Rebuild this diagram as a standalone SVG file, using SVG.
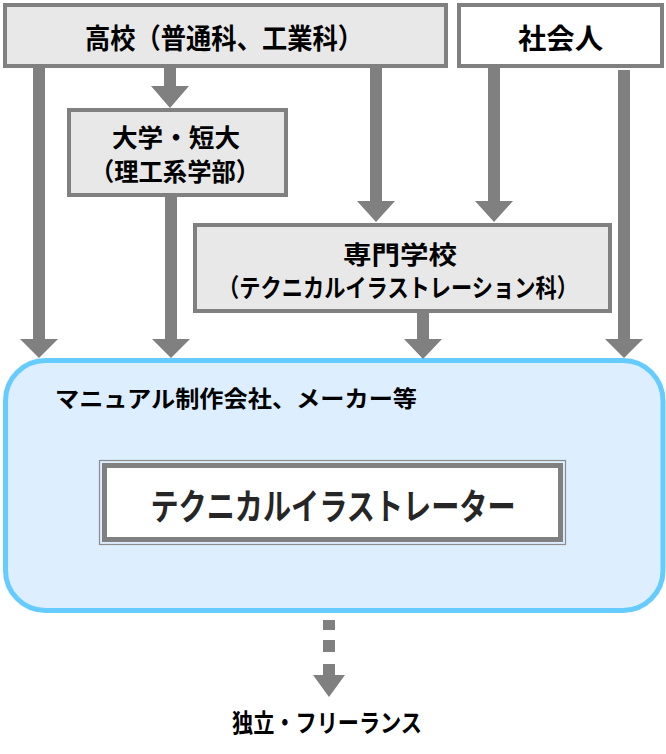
<svg xmlns="http://www.w3.org/2000/svg" width="666" height="754" viewBox="0 0 666 754">
<style>
.box{fill:#e8e8e8;stroke:#808080;stroke-width:4}
.wbox{fill:#ffffff;stroke:#808080;stroke-width:4}
.arr{fill:#808080}
.t{font-family:"Noto Sans CJK JP","Noto Sans",sans-serif;font-weight:bold;fill:#000;text-anchor:middle}
</style>
<rect width="666" height="754" fill="#ffffff"/>
<g id="company">
<rect x="5.5" y="360.5" width="657.5" height="250" rx="40" ry="40" fill="#dceeff" stroke="#66ccff" stroke-width="5"/>
<text class="t" x="55" y="407" font-size="23" style="text-anchor:start" textLength="362" lengthAdjust="spacingAndGlyphs">マニュアル制作会社、メーカー等</text>
</g>
<g id="illustrator">
<rect x="99.5" y="460.5" width="466" height="84" fill="none" stroke="#8c8c8c" stroke-width="1.2"/>
<rect x="104.5" y="465.5" width="456" height="74" fill="#ffffff" stroke="#808080" stroke-width="5"/>
<text class="t" x="333" y="520" font-size="36" style="font-weight:bold;fill:#262626" textLength="365" lengthAdjust="spacingAndGlyphs">テクニカルイラストレーター</text>
</g>
<g id="highschool">
<rect class="box" x="5" y="5" width="441" height="61"/>
<text class="t" x="224" y="49" font-size="28" textLength="278" lengthAdjust="spacingAndGlyphs">高校（普通科、工業科）</text>
</g>
<g id="shakaijin">
<rect class="wbox" x="459" y="5" width="203" height="61"/>
<text class="t" x="560.5" y="49" font-size="28" textLength="85" lengthAdjust="spacingAndGlyphs">社会人</text>
</g>
<g id="university">
<rect class="box" x="69" y="110" width="217" height="85"/>
<text class="t" x="176" y="147" font-size="25" textLength="128" lengthAdjust="spacingAndGlyphs">大学・短大</text>
<text class="t" x="175" y="181" font-size="25" textLength="170" lengthAdjust="spacingAndGlyphs">（理工系学部）</text>
</g>
<g id="senmon">
<rect class="box" x="195" y="225" width="415" height="86"/>
<text class="t" x="400" y="264" font-size="25" textLength="114" lengthAdjust="spacingAndGlyphs">専門学校</text>
<text class="t" x="398" y="297" font-size="25" textLength="360" lengthAdjust="spacingAndGlyphs">（テクニカルイラストレーション科）</text>
</g>
<g id="freelance">
<text class="t" x="327" y="732" font-size="25" textLength="190" lengthAdjust="spacingAndGlyphs">独立・フリーランス</text>
</g>
<g id="connectors">
<polygon class="arr" points="33,68 45,68 45,339 58,339 39,358 20,339 33,339"/>
<polygon class="arr" points="164,68 176,68 176,86 189,86 170,108 151,86 164,86"/>
<polygon class="arr" points="165,197 177,197 177,339 190,339 171,358 152,339 165,339"/>
<polygon class="arr" points="370,68 382,68 382,201 395,201 376,222 357,201 370,201"/>
<polygon class="arr" points="488,68 500,68 500,201 513,201 494,222 475,201 488,201"/>
<polygon class="arr" points="618,70 630,70 630,339 643,339 624,358 605,339 618,339"/>
<polygon class="arr" points="417,313 429,313 429,339 442,339 423,359 404,339 417,339"/>
<rect class="arr" x="323" y="620" width="12" height="10"/>
<rect class="arr" x="323" y="640" width="12" height="12"/>
<polygon class="arr" points="323,664 335,664 335,675 345,675 329,697 313,675 323,675"/>
</g>
</svg>
